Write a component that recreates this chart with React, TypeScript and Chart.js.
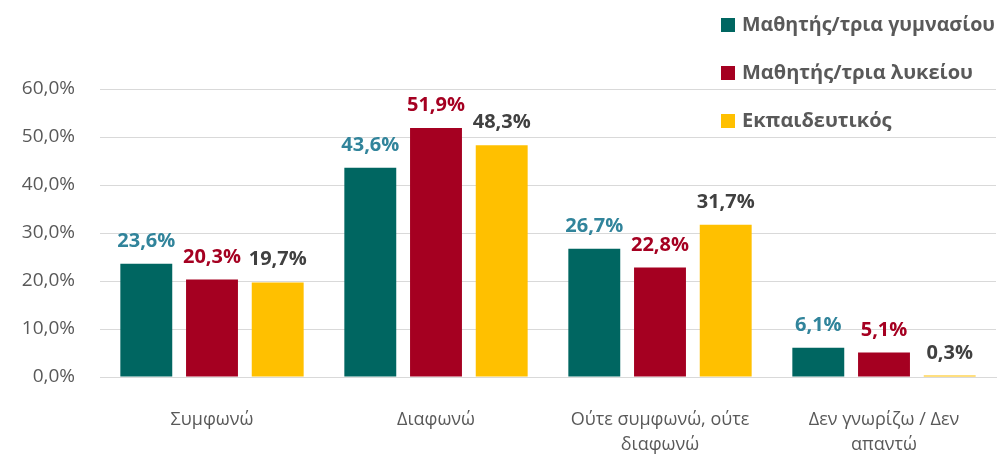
import React, { useEffect, useRef } from "react";
import { Chart, registerables } from "chart.js";

Chart.register(...registerables);

const categories: (string | string[])[] = [
  "Συμφωνώ",
  "Διαφωνώ",
  ["Ούτε συμφωνώ, ούτε", "διαφωνώ"],
  ["Δεν γνωρίζω / Δεν", "απαντώ"],
];
const seriesNames = ["Μαθητής/τρια γυμνασίου", "Μαθητής/τρια λυκείου", "Εκπαιδευτικός"];
const gymnasio = [23.6, 43.6, 26.7, 6.1];
const lykeio = [20.3, 51.9, 22.8, 5.1];
const ekpaideutikos = [19.7, 48.3, 31.7, 0.3];
const barColors = ["#006661", "#A50021", "#FFC000"];
const labelColors = ["#31849B", "#A50021", "#404040"];
const yTicks = [0, 10, 20, 30, 40, 50, 60];

const FONT = "'Open Sans', 'Noto Sans', sans-serif";
const fmt = (v: number) => v.toFixed(1).replace(".", ",") + "%";

const dataLabelPlugin = {
  id: "dataLabels",
  afterDatasetsDraw(chart: any) {
    const ctx = chart.ctx;
    ctx.save();
    ctx.font = `bold 20px ${FONT}`;
    ctx.textAlign = "center";
    ctx.textBaseline = "alphabetic";
    chart.data.datasets.forEach((ds: any, i: number) => {
      const meta = chart.getDatasetMeta(i);
      ctx.fillStyle = labelColors[i];
      meta.data.forEach((bar: any, j: number) => {
        ctx.fillText(fmt(ds.data[j]), bar.x, bar.y - 17);
      });
    });
    ctx.restore();
  },
};

const legendPlugin = {
  id: "customLegend",
  afterDraw(chart: any) {
    const ctx = chart.ctx;
    ctx.save();
    ctx.font = `bold 20px ${FONT}`;
    ctx.textBaseline = "middle";
    ctx.textAlign = "left";
    seriesNames.forEach((name, i) => {
      const y = 25 + i * 48;
      ctx.fillStyle = barColors[i];
      ctx.fillRect(721, y - 7, 14, 14);
      ctx.fillStyle = "#595959";
      ctx.fillText(name, 742, y, 253);
    });
    ctx.restore();
  },
};

export default function App() {
  const ref = useRef<HTMLCanvasElement>(null);
  useEffect(() => {
    if (!ref.current) return;
    const chart = new Chart(ref.current, {
      type: "bar",
      data: {
        labels: categories as any,
        datasets: [gymnasio, lykeio, ekpaideutikos].map((d, i) => ({
          label: seriesNames[i],
          data: d,
          backgroundColor: barColors[i],
          barPercentage: 0.79,
          categoryPercentage: 0.88,
        })),
      },
      options: {
        animation: false,
        responsive: false,
        layout: { padding: { top: 89, right: 8, left: 0, bottom: 0 } },
        plugins: { legend: { display: false }, tooltip: { enabled: false } },
        scales: {
          x: {
            grid: { display: false, drawTicks: false },
            border: { color: "#D9D9D9", width: 1 },
            ticks: {
              color: "#595959",
              font: { family: FONT, size: 18, lineHeight: 1.35 },
              padding: 31,
              maxRotation: 0,
              autoSkip: false,
            },
            afterFit: (s: any) => {
              s.height = 78;
            },
          },
          y: {
            min: 0,
            max: 60,
            afterBuildTicks: (s: any) => {
              s.ticks = yTicks.map((v) => ({ value: v }));
            },
            grid: { color: "#D9D9D9", drawTicks: false },
            border: { display: false },
            ticks: {
              color: "#595959",
              font: { family: FONT, size: 19 },
              padding: 25,
              callback: (v: any) => fmt(Number(v)),
            },
            afterFit: (s: any) => {
              s.width = 100;
            },
          },
        },
      },
      plugins: [dataLabelPlugin, legendPlugin],
    });
    return () => chart.destroy();
  }, []);
  return (
    <div style={{ position: "fixed", left: 0, top: 0, width: 1004, height: 455, background: "#fff" }}>
      <canvas ref={ref} width={1004} height={455} style={{ width: 1004, height: 455 }} />
    </div>
  );
}
